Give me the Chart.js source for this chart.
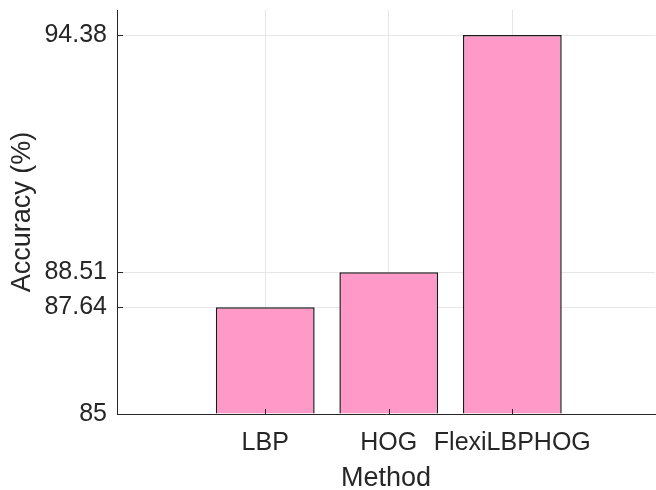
<!DOCTYPE html>
<html>
<head>
<meta charset="utf-8">
<script src="https://cdn.jsdelivr.net/npm/chart.js@4.4.0/dist/chart.umd.min.js"></script>
<style>
  html, body { margin: 0; padding: 0; background: #ffffff; }
  #wrap { width: 656px; height: 490px; }
</style>
</head>
<body>
<div id="wrap"><canvas id="c" width="656" height="490"></canvas></div>
<script>
const methods = ["LBP", "HOG", "FlexiLBPHOG"];
const accuracy = [87.64, 88.51, 94.38];
const yTicks = [85, 87.64, 88.51, 94.38];
const yMin = 85, yMax = 95;
const xMin = -0.2, xMax = 4.155;

const textColor = '#262626';
const fontFamily = '"Liberation Sans", Arial, Helvetica, sans-serif';

const innerTicks = {
  id: 'innerTicks',
  afterDatasetsDraw(chart) {
    const ctx = chart.ctx;
    const xs = chart.scales.x, ys = chart.scales.y;
    const area = chart.chartArea;
    ctx.save();
    ctx.strokeStyle = textColor;
    ctx.lineWidth = 1;
    ctx.beginPath();
    xs.ticks.forEach(t => {
      const px = Math.round(xs.getPixelForValue(t.value)) + 0.5;
      ctx.moveTo(px, area.bottom);
      ctx.lineTo(px, area.bottom - 5);
    });
    ys.ticks.forEach(t => {
      const py = Math.round(ys.getPixelForValue(t.value)) + 0.5;
      ctx.moveTo(area.left, py);
      ctx.lineTo(area.left + 6, py);
    });
    ctx.stroke();
    ctx.restore();
  }
};

new Chart(document.getElementById('c'), {
  type: 'bar',
  data: {
    datasets: [{
      data: methods.map((m, i) => ({ x: i + 1, y: accuracy[i] })),
      backgroundColor: 'rgb(255,153,200)',
      borderColor: '#1a1a1a',
      borderWidth: 1.5,
      barPercentage: 0.8,
      categoryPercentage: 1.0,
      base: yMin
    }]
  },
  options: {
    responsive: false,
    animation: false,
    devicePixelRatio: 1,
    layout: { padding: { top: 10, right: 1, left: 0, bottom: 0 } },
    plugins: { legend: { display: false }, tooltip: { enabled: false } },
    scales: {
      x: {
        type: 'linear',
        min: xMin,
        max: xMax,
        offset: false,
        afterBuildTicks(scale) {
          scale.ticks = methods.map((m, i) => ({ value: i + 1 }));
        },
        afterFit(scale) {
          scale.height = 76;
          scale.paddingLeft = 0;
          scale.paddingRight = 0;
        },
        ticks: {
          autoSkip: false,
          maxRotation: 0,
          padding: 14,
          color: textColor,
          font: { family: fontFamily, size: 25 },
          callback: (v) => methods[v - 1] || ''
        },
        grid: { offset: false, drawTicks: false, color: '#e6e6e6', lineWidth: 1 },
        border: { display: true, color: textColor, width: 1 },
        title: {
          display: true,
          text: 'Method',
          color: textColor,
          font: { family: fontFamily, size: 27, lineHeight: 1 },
          padding: { top: 0, bottom: -2 }
        }
      },
      y: {
        type: 'linear',
        min: yMin,
        max: yMax,
        afterBuildTicks(scale) {
          scale.ticks = yTicks.map(v => ({ value: v }));
        },
        afterFit(scale) {
          scale.width = 117;
          scale.paddingTop = 0;
          scale.paddingBottom = 0;
        },
        ticks: {
          autoSkip: false,
          padding: 10,
          color: textColor,
          font: { family: fontFamily, size: 25 },
          callback: (v) => String(v)
        },
        grid: { drawTicks: false, color: '#e6e6e6', lineWidth: 1 },
        border: { display: true, color: textColor, width: 1 },
        title: {
          display: true,
          text: 'Accuracy (%)',
          color: textColor,
          font: { family: fontFamily, size: 27, lineHeight: 1 },
          padding: { top: 9, bottom: 0 }
        }
      }
    }
  },
  plugins: [innerTicks]
});
</script>
</body>
</html>
